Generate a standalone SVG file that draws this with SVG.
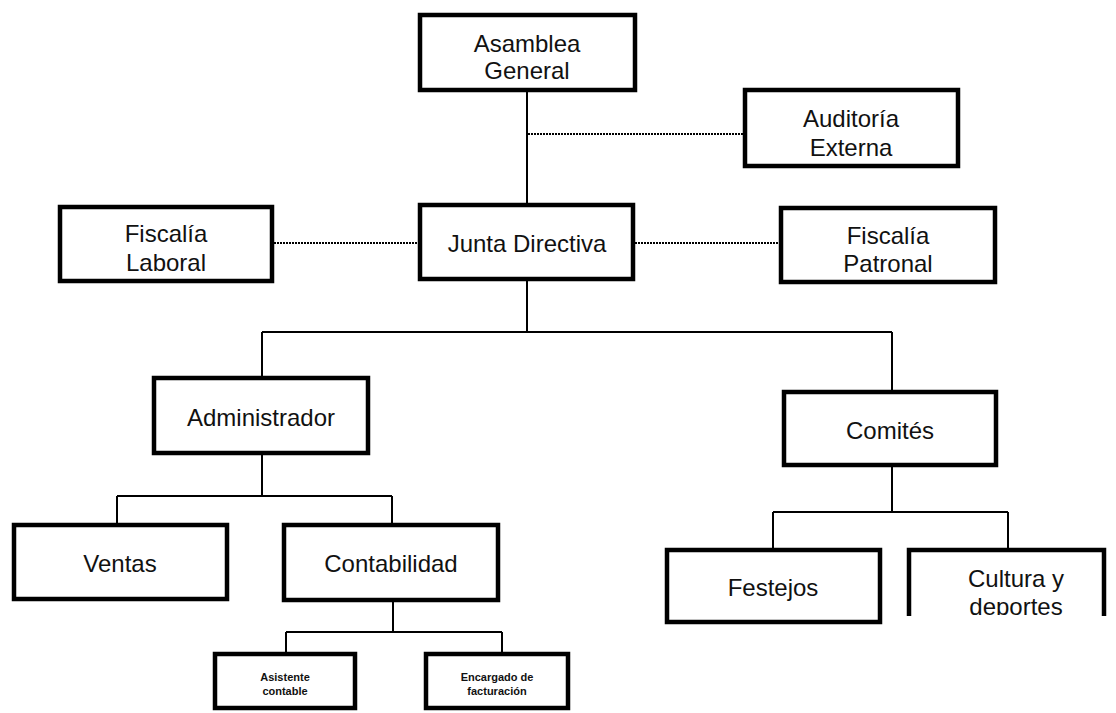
<svg xmlns="http://www.w3.org/2000/svg" width="1116" height="713" viewBox="0 0 1116 713">
  <style>
    .box { fill: #fff; stroke: #000; stroke-width: 4.5; }
    .lbl { font-family: "Liberation Sans", Arial, sans-serif; font-size: 24px; fill: #111; text-anchor: middle; }
    .sm { font-family: "Liberation Sans", Arial, sans-serif; font-size: 11px; font-weight: bold; fill: #111; text-anchor: middle; }
    .ln { fill: none; stroke: #000; stroke-width: 2; }
    .dot { fill: none; stroke: #000; stroke-width: 2; stroke-dasharray: 2 1; }
  </style>
  <defs>
    <clipPath id="clipCultura">
      <rect x="900" y="540" width="216" height="75"/>
    </clipPath>
  </defs>
  <rect width="1116" height="713" fill="#fff"/>

  <!-- connectors -->
  <g id="connectors">
    <path class="ln" d="M527 92 V203"/>
    <path class="dot" d="M528 134 H743"/>
    <path class="dot" d="M274 243 H418"/>
    <path class="dot" d="M635 243 H779"/>
    <path class="ln" d="M527 281 V332 M262 332 H892 M262 332 V376 M892 332 V390"/>
    <path class="ln" d="M262 455 V496 M117 496 H392 M117 496 V523 M392 496 V523"/>
    <path class="ln" d="M393 602 V632 M286 632 H502 M286 632 V652 M502 632 V652"/>
    <path class="ln" d="M892 467 V512 M773 512 H1008 M773 512 V548 M1008 512 V548"/>
  </g>

  <g id="asamblea">
    <rect class="box" x="420" y="15" width="215" height="75"/>
    <text class="lbl" x="527" y="52">Asamblea</text>
    <text class="lbl" x="527" y="79">General</text>
  </g>

  <g id="auditoria">
    <rect class="box" x="745" y="90" width="213" height="76"/>
    <text class="lbl" x="851" y="127">Auditoría</text>
    <text class="lbl" x="851" y="156">Externa</text>
  </g>

  <g id="fiscalia-laboral">
    <rect class="box" x="60" y="207" width="212" height="74"/>
    <text class="lbl" x="166" y="242">Fiscalía</text>
    <text class="lbl" x="166" y="271">Laboral</text>
  </g>

  <g id="junta">
    <rect class="box" x="420" y="205" width="213" height="74"/>
    <text class="lbl" x="527" y="252">Junta Directiva</text>
  </g>

  <g id="fiscalia-patronal">
    <rect class="box" x="781" y="208" width="214" height="74"/>
    <text class="lbl" x="888" y="244">Fiscalía</text>
    <text class="lbl" x="888" y="272">Patronal</text>
  </g>

  <g id="administrador">
    <rect class="box" x="154" y="378" width="214" height="75"/>
    <text class="lbl" x="261" y="426">Administrador</text>
  </g>

  <g id="comites">
    <rect class="box" x="784" y="392" width="212" height="73"/>
    <text class="lbl" x="890" y="439">Comités</text>
  </g>

  <g id="ventas">
    <rect class="box" x="14" y="525" width="213" height="74"/>
    <text class="lbl" x="120" y="572">Ventas</text>
  </g>

  <g id="contabilidad">
    <rect class="box" x="284" y="525" width="214" height="75"/>
    <text class="lbl" x="391" y="572">Contabilidad</text>
  </g>

  <g id="festejos">
    <rect class="box" x="667" y="550" width="213" height="72"/>
    <text class="lbl" x="773" y="596">Festejos</text>
  </g>

  <g id="cultura">
    <!-- lower edge of this box is cut off -->
    <path class="box" d="M909 616 V550 H1104 V616"/>
    <g clip-path="url(#clipCultura)">
      <text class="lbl" x="1016" y="587">Cultura y</text>
      <text class="lbl" x="1016" y="615">deportes</text>
    </g>
  </g>

  <g id="asistente">
    <rect class="box" x="215" y="654" width="140" height="54"/>
    <text class="sm" x="285" y="681">Asistente</text>
    <text class="sm" x="285" y="695">contable</text>
  </g>

  <g id="encargado">
    <rect class="box" x="426" y="654" width="142" height="54"/>
    <text class="sm" x="497" y="681">Encargado de</text>
    <text class="sm" x="497" y="695">facturación</text>
  </g>
</svg>
